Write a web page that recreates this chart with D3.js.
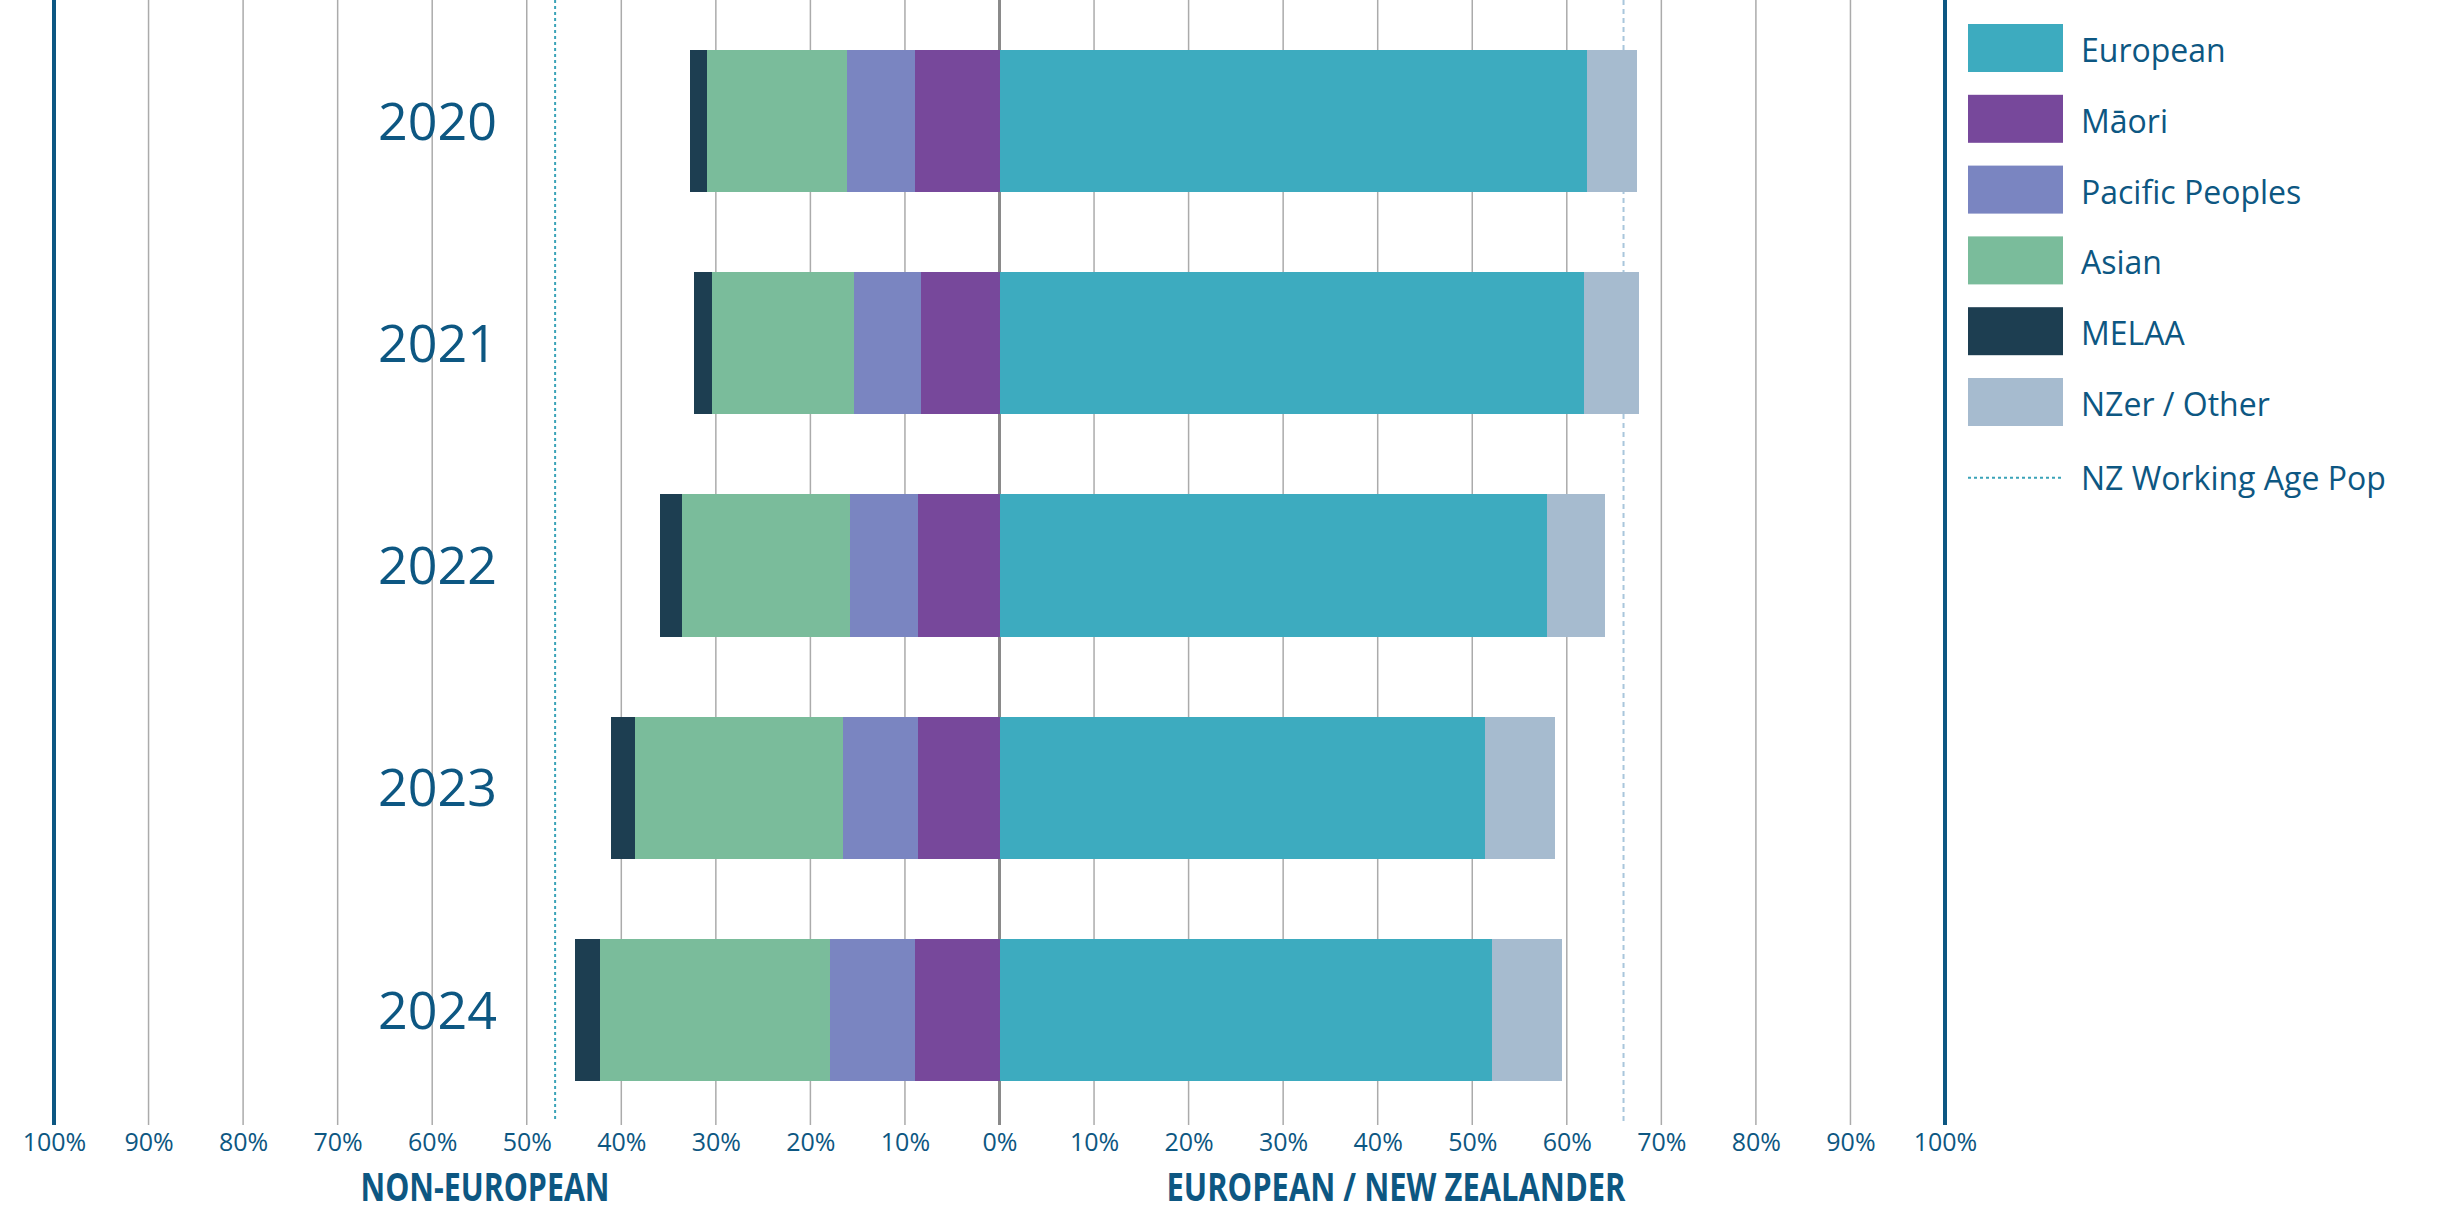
<!DOCTYPE html>
<html>
<head>
<meta charset="utf-8">
<script src="https://cdn.jsdelivr.net/npm/d3@7"></script>
<style>
  html, body { margin: 0; padding: 0; background: #ffffff; }
  svg { display: block; }
</style>
</head>
<body>
<svg id="chart" width="2460" height="1211"></svg>
<script>
// Ethnic composition by year: non-European groups extend left of zero,
// European / NZer extend right (percent of total).
const years = ['2020', '2021', '2022', '2023', '2024'];
const european   = [62.1, 61.8, 57.9, 51.4, 52.1];
const nzerOther  = [5.3, 5.8, 6.1, 7.3, 7.4];
const maori      = [8.9, 8.3, 8.6, 8.6, 8.9];
const pacific    = [7.2, 7.1, 7.2, 8.0, 9.0];
const asian      = [14.8, 15.0, 17.8, 21.9, 24.3];
const melaa      = [1.8, 1.9, 2.3, 2.6, 2.7];

// NZ working age population reference lines
const workingAgeNonEuropean = 47;
const workingAgeEuropean = 66;

const tickValues = [-100, -90, -80, -70, -60, -50, -40, -30, -20, -10, 0, 10, 20, 30, 40, 50, 60, 70, 80, 90, 100];
const legendLabels = ['European', 'Māori', 'Pacific Peoples', 'Asian', 'MELAA', 'NZer / Other'];
const lineLegendLabel = 'NZ Working Age Pop';
const leftTitle = 'NON-EUROPEAN';
const rightTitle = 'EUROPEAN / NEW ZEALANDER';

const colors = {
  European: '#3dabbf',
  'Māori': '#77489b',
  'Pacific Peoples': '#7a85c1',
  Asian: '#7abc9b',
  MELAA: '#1d3e51',
  'NZer / Other': '#a6bbcf'
};
const textColor = '#0d5782';
const gridColor = '#ababab';

const svg = d3.select('#chart');
const plotTop = 0, plotBottom = 1125;

const x = d3.scaleLinear().domain([-100, 100]).range([54, 1945]);
const y = d3.scaleBand().domain(years).range([10, 1121]).paddingInner(0.36).paddingOuter(0.18);

// gridlines
svg.append('g').selectAll('line')
  .data(tickValues.filter(v => Math.abs(v) !== 100 && v !== 0))
  .join('line')
  .attr('x1', d => x(d)).attr('x2', d => x(d))
  .attr('y1', plotTop).attr('y2', plotBottom)
  .attr('stroke', gridColor).attr('stroke-width', 1.5);

// zero line
svg.append('line')
  .attr('x1', x(0)).attr('x2', x(0)).attr('y1', plotTop).attr('y2', plotBottom)
  .attr('stroke', '#8a8a8a').attr('stroke-width', 3);

// outer 100% lines
svg.append('g').selectAll('line')
  .data([-100, 100])
  .join('line')
  .attr('x1', d => x(d)).attr('x2', d => x(d))
  .attr('y1', plotTop).attr('y2', plotBottom)
  .attr('stroke', textColor).attr('stroke-width', 4);

// working age population reference lines
svg.append('line')
  .attr('x1', x(-workingAgeNonEuropean)).attr('x2', x(-workingAgeNonEuropean))
  .attr('y1', plotTop).attr('y2', plotBottom - 3)
  .attr('stroke', '#3aa3b8').attr('stroke-width', 2).attr('stroke-dasharray', '3,3');
svg.append('line')
  .attr('x1', x(workingAgeEuropean)).attr('x2', x(workingAgeEuropean))
  .attr('y1', plotTop).attr('y2', plotBottom - 3)
  .attr('stroke', '#a9c6dc').attr('stroke-width', 2).attr('stroke-dasharray', '5,4');

// build stacked segments
const segments = [];
years.forEach((yr, i) => {
  let acc = 0;
  [['Māori', maori[i]], ['Pacific Peoples', pacific[i]], ['Asian', asian[i]], ['MELAA', melaa[i]]].forEach(([k, v]) => {
    segments.push({ year: yr, key: k, x0: -(acc + v), x1: -acc });
    acc += v;
  });
  acc = 0;
  [['European', european[i]], ['NZer / Other', nzerOther[i]]].forEach(([k, v]) => {
    segments.push({ year: yr, key: k, x0: acc, x1: acc + v });
    acc += v;
  });
});

svg.append('g').selectAll('rect')
  .data(segments)
  .join('rect')
  .attr('x', d => x(d.x0))
  .attr('width', d => x(d.x1) - x(d.x0))
  .attr('y', d => y(d.year))
  .attr('height', y.bandwidth())
  .attr('fill', d => colors[d.key])
  .attr('shape-rendering', 'crispEdges');

// year labels
svg.append('g').selectAll('text')
  .data(years)
  .join('text')
  .attr('x', 497)
  .attr('y', d => y(d) + y.bandwidth() / 2)
  .attr('dy', '0.36em')
  .attr('text-anchor', 'end')
  .attr('font-family', '"Open Sans", sans-serif')
  .attr('font-size', 52)
  .attr('fill', textColor)
  .text(d => d);

// bottom axis labels
const axis = d3.axisBottom(x)
  .tickValues(tickValues)
  .tickSize(0)
  .tickPadding(0)
  .tickFormat(d => Math.abs(d) + '%');
const axisG = svg.append('g')
  .attr('transform', `translate(0, 1151)`)
  .call(axis);
axisG.select('.domain').remove();
axisG.selectAll('text')
  .attr('y', 0).attr('dy', 0)
  .attr('font-family', '"Open Sans", sans-serif')
  .attr('font-size', 25)
  .attr('fill', textColor);

// side titles
[[leftTitle, 485, 249], [rightTitle, 1396, 459]].forEach(([t, cx, w]) => {
  svg.append('text')
    .attr('x', cx).attr('y', 1201)
    .attr('text-anchor', 'middle')
    .attr('font-family', '"Open Sans", sans-serif')
    .attr('font-weight', 700)
    .attr('font-size', 39)
    .attr('fill', textColor)
    .attr('textLength', w)
    .attr('lengthAdjust', 'spacingAndGlyphs')
    .text(t);
});

// legend
const legend = svg.append('g').attr('transform', 'translate(1968, 24)');
const legendStep = 70.8;
const items = legend.selectAll('g.item')
  .data(legendLabels)
  .join('g')
  .attr('class', 'item')
  .attr('transform', (d, i) => `translate(0, ${i * legendStep})`);
items.append('rect')
  .attr('width', 95).attr('height', 48)
  .attr('fill', d => colors[d]);
items.append('text')
  .attr('x', 113).attr('y', 38)
  .attr('font-family', '"Open Sans", sans-serif')
  .attr('font-size', 32)
  .attr('fill', textColor)
  .text(d => d);
const lineItem = legend.append('g')
  .attr('transform', `translate(0, ${legendLabels.length * legendStep})`);
lineItem.append('line')
  .attr('x1', 0).attr('x2', 95).attr('y1', 29).attr('y2', 29)
  .attr('stroke', '#3aa3b8').attr('stroke-width', 2).attr('stroke-dasharray', '3,3');
lineItem.append('text')
  .attr('x', 113).attr('y', 41)
  .attr('font-family', '"Open Sans", sans-serif')
  .attr('font-size', 32)
  .attr('fill', textColor)
  .text(lineLegendLabel);
</script>
</body>
</html>
